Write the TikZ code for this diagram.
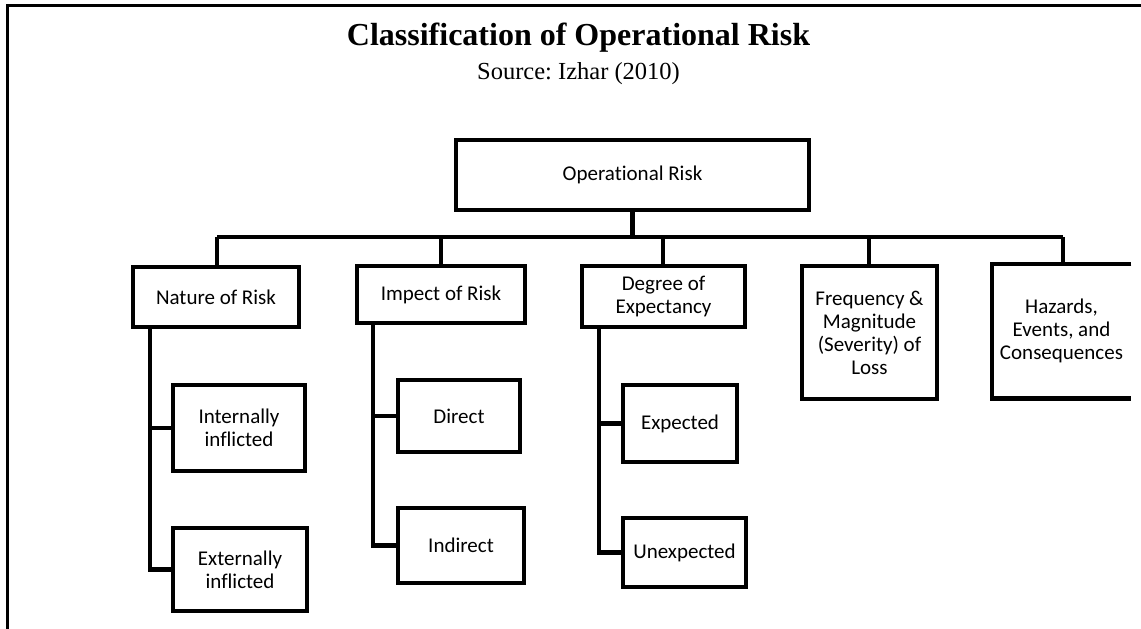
\documentclass[tikz,border=0pt]{standalone}
\usepackage{fontspec}
\setmainfont{Liberation Serif}
\newfontfamily\boxfont[Ligatures=NoCommon]{Carlito}
\frenchspacing
\begin{document}
\begin{tikzpicture}[x=1pt,y=-1pt,
  bx/.style={draw=black, line width=4.5pt, inner sep=0pt, align=center,
    font=\boxfont\fontsize{21}{23}\selectfont},
  ln/.style={draw=black, line width=4.5pt},
  frame/.style={draw=black, line width=3pt}]
\useasboundingbox (0,0) rectangle (1141,629);
% outer frame (top and left sides)
\coordinate (fa) at (7,629);
\coordinate (fb) at (7,5);
\coordinate (fc) at (1141,5);
\draw[frame] (fa) -- (fb) -- (fc);
% titles
\node[anchor=base, font=\fontsize{32}{38}\selectfont\bfseries] (title) at (578.5,45) {Classification of Operational Risk};
\node[anchor=base, font=\fontsize{24.5}{28}\selectfont] (src) at (578.5,79) {Source: Izhar (2010)};
% top box
\node[bx, minimum width=353pt, minimum height=70pt] (op) at (632.5,175) {Operational Risk};
% second level
\node[bx, minimum width=166pt, minimum height=60pt] (nat) at (216,297) {Nature of Risk};
\node[bx, minimum width=168pt, minimum height=57pt] (imp) at (441,294.5) {Impect of Risk};
\node[bx, minimum width=163pt, minimum height=61pt] (deg) at (663.5,296.5) {Degree of\\Expectancy};
\node[bx, minimum width=135pt, minimum height=133pt] (freq) at (869.5,332.5) {Frequency \&\\Magnitude\\(Severity) of\\Loss};
\node[bx, draw=none, minimum width=135pt, minimum height=130pt] (haz) at (1061.5,331) {Hazards,\\Events, and\\Consequences};
\draw[ln] (haz.north east) -- (haz.north west) -- (haz.south west) -- (haz.south east);
% third level
\node[bx, minimum width=132pt, minimum height=86pt] (int) at (239,428) {Internally\\inflicted};
\node[bx, minimum width=134pt, minimum height=83pt] (ext) at (240,569.5) {Externally\\inflicted};
\node[bx, minimum width=122pt, minimum height=72pt] (dir) at (459,416) {Direct};
\node[bx, minimum width=126pt, minimum height=75pt] (ind) at (461,545.5) {Indirect};
\node[bx, minimum width=114pt, minimum height=77pt] (exp) at (680,423.5) {Expected};
\node[bx, minimum width=123pt, minimum height=69pt] (unx) at (684.5,552.5) {Unexpected};
% bus
\coordinate (busy) at (0,237);
\coordinate (natx) at (217,0);
\coordinate (imx) at (441,0);
\coordinate (dgx) at (663,0);
\coordinate (frx) at (869,0);
\coordinate (hzx) at (1063,0);
\draw[ln] (op.south) -- (op.south |- busy);
\draw[ln] (natx |- busy) -- (hzx |- busy);
\draw[ln] (natx |- busy) -- (natx |- nat.north);
\draw[ln] (imx |- busy) -- (imx |- imp.north);
\draw[ln] (dgx |- busy) -- (dgx |- deg.north);
\draw[ln] (frx |- busy) -- (frx |- freq.north);
\draw[ln] (hzx |- busy) -- (hzx |- haz.north);
% sub-branches
\coordinate (nv) at (150,0);
\coordinate (iv) at (373,0);
\coordinate (dv) at (599,0);
\draw[ln] (nv |- nat.south) |- (ext.west);
\draw[ln] (int.west) -- (int.west -| nv);
\draw[ln] (iv |- imp.south) |- (ind.west);
\draw[ln] (dir.west) -- (dir.west -| iv);
\draw[ln] (dv |- deg.south) |- (unx.west);
\draw[ln] (exp.west) -- (exp.west -| dv);
\end{tikzpicture}
\end{document}
